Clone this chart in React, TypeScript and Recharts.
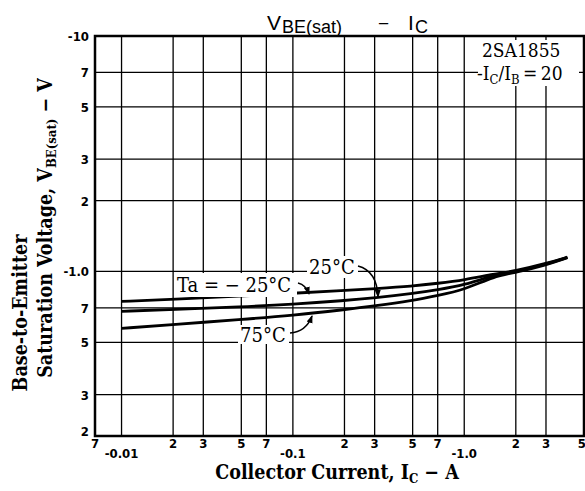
import { LineChart, Line, XAxis, YAxis, CartesianGrid, ReferenceArea } from 'recharts';

// collector current (A, magnitude) and V_BE(sat) (V, magnitude)
const currents = [0.01, 0.02, 0.05, 0.1, 0.2, 0.3, 0.5, 0.7, 1.0, 1.5, 2, 3, 4];
const vbeMinus25 = [0.746, 0.762, 0.785, 0.808, 0.83, 0.845, 0.866, 0.89, 0.92, 0.975, 1.005, 1.08, 1.15];
const vbe25 = [0.677, 0.69, 0.707, 0.725, 0.752, 0.772, 0.805, 0.835, 0.875, 0.965, 0.997, 1.072, 1.147];
const vbe75 = [0.573, 0.595, 0.625, 0.651, 0.688, 0.713, 0.752, 0.79, 0.835, 0.955, 0.99, 1.064, 1.144];

const xTicks = [0.007, 0.01, 0.02, 0.03, 0.05, 0.07, 0.1, 0.2, 0.3, 0.5, 0.7, 1, 2, 3, 5];
const xTickLabels = ['7', '-0.01', '2', '3', '5', '7', '-0.1', '2', '3', '5', '7', '-1.0', '2', '3', '5'];
const yTicks = [0.2, 0.3, 0.5, 0.7, 1, 2, 3, 5, 7, 10];
const yTickLabels = ['2', '3', '5', '7', '-1.0', '2', '3', '5', '7', '-10'];

const data = currents.map((ic, i) => ({
  ic,
  tm25: vbeMinus25[i],
  t25: vbe25[i],
  t75: vbe75[i],
}));

const tickFont = "'Liberation Sans Narrow', 'DejaVu Sans Condensed', sans-serif";
const serif = "'DejaVu Serif Condensed', 'DejaVu Serif', serif";

function XTick(props: any) {
  const { x, y, index } = props;
  const label = xTickLabels[index];
  const decade = label.startsWith('-');
  const last = index === xTickLabels.length - 1;
  return (
    <text
      x={last ? 586 : x}
      y={y + (decade ? 14 : 4)}
      textAnchor={last ? 'end' : 'middle'}
      fontFamily={tickFont}
      fontWeight="bold"
      fontSize={13}
      fill="#000"
    >
      {label}
    </text>
  );
}

function YTick(props: any) {
  const { x, y, index } = props;
  return (
    <text x={x + 2} y={y + (index === 0 ? 0 : 5)} textAnchor="end" fontFamily={tickFont} fontWeight="bold" fontSize={13} fill="#000">
      {yTickLabels[index]}
    </text>
  );
}

function Overlay() {
  return (
    <svg width={585} height={491} style={{ position: 'absolute', left: 0, top: 0, pointerEvents: 'none' }}>
      <defs>
        <marker id="ah" markerWidth="8" markerHeight="8" refX="7" refY="4" orient="auto" markerUnits="userSpaceOnUse">
          <path d="M0,1 L8,4 L0,7 Z" fill="#000" />
        </marker>
      </defs>
      {/* title */}
      <g fontFamily="'Liberation Sans', Arial, sans-serif" fill="#000">
        <text x={267} y={30} fontSize={21}>V</text>
        <text x={282} y={33} fontSize={18}>BE(sat)</text>
        <text x={378} y={30} fontSize={19}>−</text>
        <text x={408} y={30} fontSize={21}>I</text>
        <text x={415} y={33} fontSize={18}>C</text>
      </g>
      {/* type / condition box */}
      <rect x={478} y={40} width={101} height={46} fill="#fff" />
      <g fontFamily={serif} fontSize={19} fill="#000">
        <text x={482} y={57}>2SA1855</text>
        <text x={477} y={80}>
          -I<tspan fontSize={13} dy={4}>C</tspan><tspan dy={-4}>/I</tspan><tspan fontSize={13} dy={4}>B</tspan>
          <tspan dy={-4}>{'\u2009=\u200920'}</tspan>
        </text>
      </g>
      {/* curve labels */}
      <rect x={175} y={273} width={122} height={24} fill="#fff" />
      <rect x={307} y={256} width={51} height={22} fill="#fff" />
      <rect x={238} y={325} width={51} height={19} fill="#fff" />
      <g fontFamily={serif} fontSize={20} fill="#000">
        <text x={177} y={292}>Ta = − 25°C</text>
        <text x={309} y={274}>25°C</text>
        <text x={240} y={342}>75°C</text>
      </g>
      <g fill="none" stroke="#000" strokeWidth={1.5}>
        <path d="M298,283 Q306,285 309,294" markerEnd="url(#ah)" />
        <path d="M358,266 Q377,271 378,297" markerEnd="url(#ah)" />
        <path d="M290,333 Q306,332 312,316" markerEnd="url(#ah)" />
      </g>
      {/* axis titles */}
      <text x={337} y={479} textAnchor="middle" fontFamily={serif} fontWeight="bold" fontSize={19.5} fill="#000">
        Collector Current, I<tspan fontSize={13} dy={4}>C</tspan><tspan dy={-4}> − A</tspan>
      </text>
      <g fontFamily={serif} fontWeight="bold" fontSize={19.5} fill="#000">
        <text transform="translate(27,313) rotate(-90)" textAnchor="middle">Base-to-Emitter</text>
        <text transform="translate(52,228) rotate(-90)" textAnchor="middle">
          Saturation Voltage, V<tspan fontSize={13} dy={4}>BE(sat)</tspan><tspan dy={-4}> − V</tspan>
        </text>
      </g>
    </svg>
  );
}

export default function App() {
  return (
    <div style={{ position: 'absolute', left: 0, top: 0, width: 585, height: 491, background: '#fff' }}>
      <LineChart width={585} height={491} data={data} margin={{ top: 36, right: 1, bottom: 25, left: 0 }}>
        <CartesianGrid stroke="#000" strokeWidth={1.3} />
        <XAxis
          dataKey="ic"
          type="number"
          scale="log"
          domain={[0.007, 5]}
          ticks={xTicks}
          allowDataOverflow
          height={30}
          axisLine={false}
          tickLine={false}
          tick={<XTick />}
          interval={0}
        />
        <YAxis
          type="number"
          scale="log"
          domain={[0.2, 10]}
          ticks={yTicks}
          allowDataOverflow
          width={95}
          axisLine={false}
          tickLine={false}
          tick={<YTick />}
          interval={0}
        />
        <ReferenceArea x1={0.007} x2={5} y1={0.2} y2={10} fill="none" stroke="#000" strokeWidth={2.5} />
        <Line dataKey="tm25" type="basis" stroke="#000" strokeWidth={2.8} dot={false} isAnimationActive={false} />
        <Line dataKey="t25" type="basis" stroke="#000" strokeWidth={2.8} dot={false} isAnimationActive={false} />
        <Line dataKey="t75" type="basis" stroke="#000" strokeWidth={2.8} dot={false} isAnimationActive={false} />
      </LineChart>
      <Overlay />
    </div>
  );
}
